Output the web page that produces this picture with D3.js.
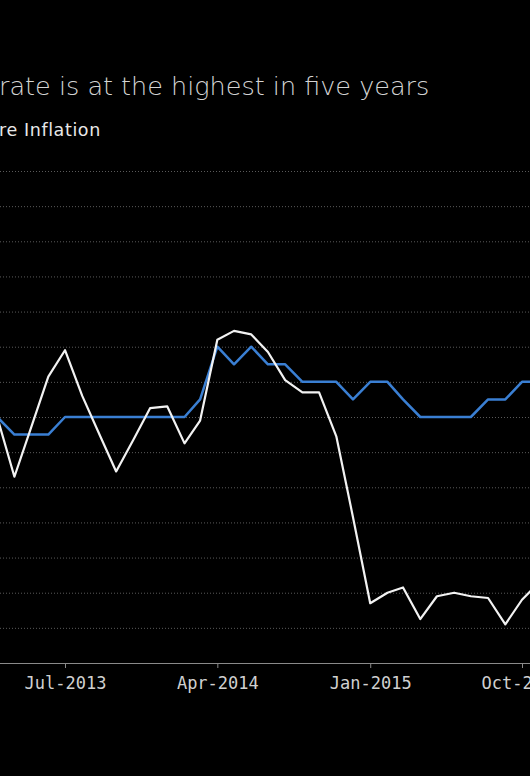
<!DOCTYPE html>
<html>
<head>
<meta charset="utf-8">
<script src="https://cdn.jsdelivr.net/npm/d3@7"></script>
<style>
  html, body { margin: 0; padding: 0; background: #000; overflow: hidden; }
  svg { display: block; background: #000; }
</style>
</head>
<body>
<svg width="530" height="776"></svg>
<script>
// monthly observations
const months = [
  "2013-03", "2013-04", "2013-05", "2013-06", "2013-07", "2013-08", "2013-09",
  "2013-10", "2013-11", "2013-12", "2014-01", "2014-02", "2014-03", "2014-04",
  "2014-05", "2014-06", "2014-07", "2014-08", "2014-09", "2014-10", "2014-11",
  "2014-12", "2015-01", "2015-02", "2015-03", "2015-04", "2015-05", "2015-06",
  "2015-07", "2015-08", "2015-09", "2015-10", "2015-11"
];

// headline inflation (white)
const headline = [
  1.0, 0.66, 0.94, 1.23, 1.38, 1.12, 0.9,
  0.69, 0.87, 1.05, 1.06, 0.85, 0.98, 1.44,
  1.49, 1.47, 1.37, 1.21, 1.14, 1.14, 0.89,
  0.43, -0.06, 0.0, 0.03, -0.15, -0.02, 0.0,
  -0.02, -0.03, -0.18, -0.04, 0.06
];

// core inflation (blue)
const core = [
  1.0, 0.9, 0.9, 0.9, 1.0, 1.0, 1.0,
  1.0, 1.0, 1.0, 1.0, 1.0, 1.1, 1.4,
  1.3, 1.4, 1.3, 1.3, 1.2, 1.2, 1.2,
  1.1, 1.2, 1.2, 1.1, 1.0, 1.0, 1.0,
  1.0, 1.1, 1.1, 1.2, 1.2
];

const xTicks = ["2013-07", "2014-04", "2015-01", "2015-10"];
const yGrid = [-0.2, 0, 0.2, 0.4, 0.6, 0.8, 1.0, 1.2, 1.4, 1.6, 1.8, 2.0, 2.2, 2.4];

const titleText = "rate is at the highest in five years";
const legendText = "re Inflation";

// setup
const svg = d3.select("svg"),
  width = +svg.attr("width"),
  height = +svg.attr("height");

const parse = d3.timeParse("%Y-%m");
const fmt = d3.timeFormat("%b-%Y");

const plotTop = 171,
  plotBottom = 663;

const x = d3
  .scaleTime()
  .domain([parse("2013-07"), parse("2015-10")])
  .range([65, 522]);

const y = d3.scaleLinear().domain([-0.4, 2.4]).range([plotBottom, plotTop]);

// title + legend (cut off on the left like the original)
svg
  .append("text")
  .attr("x", -1)
  .attr("y", 95)
  .attr("fill", "#d4d4d4")
  .style("font-family", "'DejaVu Sans', sans-serif")
  .style("font-weight", 300)
  .style("font-size", "25.5px")
  .text(titleText);

svg
  .append("text")
  .attr("x", -1)
  .attr("y", 136)
  .attr("fill", "#e8e8e8")
  .style("font-family", "'DejaVu Sans', sans-serif")
  .style("font-size", "17.5px")
  .style("letter-spacing", "0.6px")
  .text(legendText);

// dotted gridlines
const grid = svg
  .append("g")
  .attr("class", "grid")
  .call(
    d3.axisLeft(y).tickValues(yGrid).tickSize(-width).tickFormat("")
  );
grid.select(".domain").remove();
grid
  .selectAll("line")
  .attr("stroke", "#5a5a5a")
  .attr("stroke-width", 1)
  .attr("stroke-dasharray", "1,2");

// x axis
const xAxis = svg
  .append("g")
  .attr("transform", "translate(0," + plotBottom + ")")
  .call(
    d3
      .axisBottom(x)
      .tickValues(xTicks.map(parse))
      .tickFormat(fmt)
      .tickSizeInner(5)
      .tickSizeOuter(0)
      .tickPadding(9)
  );
xAxis.select(".domain").attr("stroke", "#8a8a8a").attr("d", "M0,0.5H" + width);
xAxis.selectAll(".tick line").attr("stroke", "#8a8a8a");
xAxis
  .selectAll(".tick text")
  .attr("fill", "#d0d0d0")
  .style("font-family", "'DejaVu Sans Mono', monospace")
  .style("font-size", "17px");

// lines
const line = d3
  .line()
  .x((d, i) => x(parse(months[i])))
  .y((d) => y(d));

svg
  .append("path")
  .datum(core)
  .attr("d", line)
  .attr("fill", "none")
  .attr("stroke", "#3a7fd3")
  .attr("stroke-width", 2.5)
  .attr("stroke-linejoin", "round");

svg
  .append("path")
  .datum(headline)
  .attr("d", line)
  .attr("fill", "none")
  .attr("stroke", "#f2f2f2")
  .attr("stroke-width", 2.2)
  .attr("stroke-linejoin", "round");
</script>
</body>
</html>
